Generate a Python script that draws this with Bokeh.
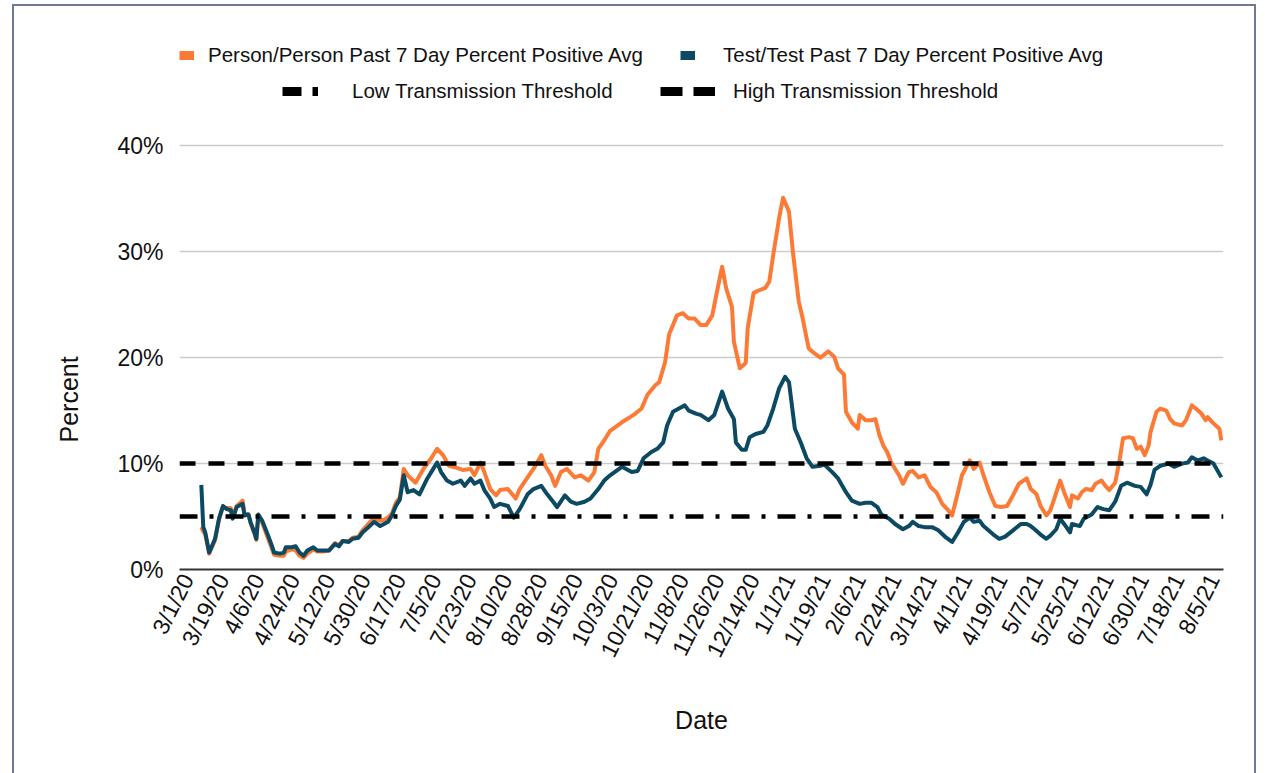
from bokeh.plotting import figure
from bokeh.models import (Range1d, FixedTicker, PrintfTickFormatter, Span,
                          Legend, LegendItem, Title)
from bokeh.embed import file_html
from bokeh.resources import INLINE

# ---------------- data ----------------
# x values are days since 3/1/20
tick_labels = ["3/1/20", "3/19/20", "4/6/20", "4/24/20", "5/12/20", "5/30/20",
               "6/17/20", "7/5/20", "7/23/20", "8/10/20", "8/28/20", "9/15/20",
               "10/3/20", "10/21/20", "11/8/20", "11/26/20", "12/14/20", "1/1/21",
               "1/19/21", "2/6/21", "2/24/21", "3/14/21", "4/1/21", "4/19/21",
               "5/7/21", "5/25/21", "6/12/21", "6/30/21", "7/18/21", "8/5/21"]
tick_step_days = 18

person_days = [7, 8, 9, 11, 14, 16, 18, 20, 22, 23, 25, 28, 29, 31, 32, 34, 35, 36, 38, 41,
               43, 44, 47, 49, 50, 53, 55, 57, 59, 61, 64, 66, 69, 72, 75, 77, 79, 82, 84, 87,
               89, 92, 95, 98, 100, 102, 104, 106, 108, 110, 112, 116, 120, 124, 127, 130, 133,
               137, 140, 144, 146, 149, 151, 154, 157, 159, 163, 167, 169, 173, 176, 180, 182,
               185, 187, 190, 193, 197, 200, 204, 207, 209, 212, 215, 221, 227, 231, 234, 238,
               240, 243, 245, 249, 252, 255, 258, 261, 264, 267, 269, 272, 274, 277, 278, 281,
               284, 285, 288, 290, 294, 296, 298, 301, 303, 306, 308, 311, 313, 316, 319, 322,
               326, 329, 331, 334, 335, 338, 341, 342, 345, 348, 350, 352, 354, 356, 358, 362,
               364, 367, 369, 372, 375, 378, 381, 384, 387, 389, 392, 394, 398, 400, 403, 405,
               408, 411, 414, 417, 420, 423, 427, 429, 432, 434, 437, 439, 441, 444, 446, 449,
               450, 453, 455, 457, 460, 462, 465, 467, 469, 472, 474, 476, 479, 481, 483, 485,
               487, 489, 490, 493, 495, 498, 500, 502, 506, 508, 511, 513, 516, 518, 519, 522,
               525, 526]
person_vals = [4.0, 3.6, 3.3, 1.5, 2.8, 4.7, 5.9, 5.8, 5.8, 5.0, 6.0, 6.5, 5.3, 5.2, 4.4, 3.4,
               2.8, 5.0, 4.4, 2.9, 1.9, 1.4, 1.3, 1.3, 1.7, 1.9, 1.8, 1.3, 1.1, 1.5, 1.9, 1.7,
               1.7, 1.8, 2.5, 2.3, 2.7, 2.7, 3.0, 3.1, 3.7, 4.3, 4.9, 4.6, 4.7, 4.9, 5.3, 6.3,
               6.8, 9.5, 8.9, 8.2, 9.5, 10.5, 11.4, 10.8, 9.8, 9.6, 9.4, 9.5, 8.9, 10.1, 9.2,
               7.6, 7.0, 7.5, 7.6, 6.7, 7.6, 8.7, 9.5, 10.8, 9.8, 8.9, 7.9, 9.2, 9.5, 8.7, 8.9,
               8.4, 9.2, 11.4, 12.2, 13.1, 13.9, 14.6, 15.2, 16.5, 17.4, 17.7, 19.6, 22.2, 24.0,
               24.2, 23.7, 23.7, 23.1, 23.1, 24.0, 25.9, 28.6, 26.6, 24.8, 21.5, 19.0, 19.5,
               22.8, 26.1, 26.3, 26.6, 27.2, 29.7, 33.2, 35.1, 33.8, 30.0, 25.3, 23.7, 20.9,
               20.4, 20.0, 20.6, 20.1, 19.0, 18.4, 14.9, 13.9, 13.3, 14.6, 14.1, 14.1, 14.2,
               12.7, 11.7, 11.1, 10.1, 8.9, 8.1, 9.2, 9.3, 8.7, 8.9, 7.8, 7.3, 6.2, 5.6, 5.1,
               7.3, 8.9, 10.3, 9.5, 10.1, 8.9, 7.3, 6.0, 5.9, 6.0, 7.0, 8.1, 8.6, 7.6, 7.1, 6.0,
               5.1, 5.6, 6.7, 8.4, 7.3, 5.9, 7.0, 6.7, 7.3, 7.6, 7.5, 8.1, 8.4, 7.9, 7.5, 8.2,
               10.1, 12.4, 12.5, 12.4, 11.4, 11.6, 10.8, 11.7, 13.0, 14.9, 15.2, 15.0, 14.2,
               13.8, 13.6, 14.1, 15.5, 15.2, 14.7, 14.1, 14.4, 13.8, 13.3, 12.2]

test_days = [7, 8, 9, 11, 14, 16, 18, 20, 22, 23, 25, 28, 29, 31, 32, 34, 35, 36, 38, 41, 43,
             44, 47, 49, 50, 53, 55, 57, 59, 61, 64, 66, 69, 72, 75, 77, 79, 82, 84, 87, 89, 92,
             95, 98, 100, 102, 104, 106, 108, 110, 112, 115, 118, 122, 125, 127, 129, 132, 135,
             139, 141, 144, 146, 149, 151, 154, 156, 159, 163, 166, 169, 173, 176, 180, 183,
             186, 188, 192, 195, 198, 202, 205, 209, 212, 215, 221, 226, 229, 232, 236, 239,
             242, 244, 247, 250, 253, 255, 259, 261, 265, 268, 272, 275, 278, 279, 282, 284,
             286, 289, 293, 295, 298, 301, 304, 306, 309, 312, 315, 318, 322, 324, 328, 331,
             335, 338, 342, 345, 348, 351, 353, 357, 360, 364, 367, 369, 372, 375, 379, 382,
             386, 389, 392, 395, 398, 400, 403, 405, 410, 413, 416, 420, 424, 427, 429, 431,
             434, 437, 439, 442, 444, 446, 449, 450, 454, 456, 460, 463, 466, 469, 472, 475,
             478, 482, 485, 488, 490, 492, 495, 499, 502, 506, 509, 511, 514, 517, 519, 522,
             526]
test_vals = [8.0, 4.0, 3.5, 1.6, 2.9, 4.8, 6.0, 5.7, 5.6, 4.8, 5.9, 6.2, 5.1, 5.2, 4.5, 3.5,
             2.9, 5.2, 4.6, 3.2, 2.2, 1.6, 1.5, 1.6, 2.1, 2.1, 2.2, 1.6, 1.3, 1.8, 2.1, 1.8,
             1.8, 1.8, 2.4, 2.2, 2.7, 2.6, 2.9, 3.0, 3.5, 4.0, 4.5, 4.1, 4.3, 4.5, 5.1, 6.0,
             6.6, 8.9, 7.3, 7.5, 7.1, 8.6, 9.5, 10.1, 9.2, 8.4, 8.1, 8.4, 7.9, 8.6, 8.1, 8.4,
             7.5, 6.7, 5.9, 6.2, 6.0, 4.9, 5.7, 7.1, 7.6, 7.9, 7.1, 6.4, 5.9, 7.0, 6.4, 6.2,
             6.4, 6.7, 7.6, 8.4, 8.9, 9.7, 9.2, 9.3, 10.5, 11.1, 11.4, 12.0, 13.6, 14.9, 15.2,
             15.5, 15.0, 14.7, 14.6, 14.1, 14.6, 16.8, 15.2, 14.2, 12.0, 11.3, 11.3, 12.5,
             12.8, 13.0, 13.6, 15.2, 17.1, 18.2, 17.7, 13.3, 12.0, 10.5, 9.7, 9.8, 9.9, 9.2,
             8.6, 7.3, 6.5, 6.2, 6.3, 6.3, 5.9, 5.2, 4.8, 4.3, 3.8, 4.1, 4.5, 4.1, 4.0, 4.0,
             3.7, 3.0, 2.6, 3.5, 4.5, 4.9, 4.5, 4.6, 4.1, 3.3, 2.9, 3.1, 3.7, 4.3, 4.3, 4.1,
             3.8, 3.3, 2.9, 3.2, 3.8, 4.8, 4.3, 3.5, 4.3, 4.1, 4.8, 5.2, 5.9, 5.7, 5.6, 6.4,
             7.9, 8.2, 7.9, 7.8, 7.1, 8.0, 9.4, 9.8, 10.0, 9.7, 10.0, 10.1, 10.6, 10.3, 10.5,
             10.3, 10.0, 8.7]

low_threshold = 5
high_threshold = 10
y_ticks = [0, 10, 20, 30, 40]

# ---------------- style / layout ----------------
ORANGE = "#fb7a36"
BLUE = "#0b4a62"
FONT = "Liberation Sans"
FRAME = "#70789a"
TXT = "#111111"

# the plot frame is extended upward (above 40%) so that the legends, which
# live inside the frame, are not clipped; only 0-40% carries ticks and grid.
PX_PER_UNIT = 10.55
HEADROOM_PX = 120
Y_TOP = y_ticks[-1] + HEADROOM_PX / PX_PER_UNIT

tick_days = [i * tick_step_days for i in range(len(tick_labels))]

p = figure(width=1244, height=769, title=None,
           x_range=Range1d(-4.1, 527.1), y_range=Range1d(0, Y_TOP),
           output_backend="svg", toolbar_location=None,
           min_border_left=165, min_border_right=35,
           min_border_top=19, min_border_bottom=206,
           outline_line_color=None,
           background_fill_color="white", border_fill_color="white",
           styles={"border-top": f"2px solid {FRAME}",
                   "border-left": f"2px solid {FRAME}",
                   "border-right": f"2px solid {FRAME}",
                   "margin-top": "4px", "margin-left": "12px"})

# grid
p.xgrid.visible = False
p.ygrid.ticker = FixedTicker(ticks=y_ticks)
p.ygrid.grid_line_color = "#cccccc"
p.ygrid.grid_line_width = 1.5

# series
r_person = p.line(person_days, person_vals, line_color=ORANGE, line_width=4,
                  line_join="round")
r_test = p.line(test_days, test_vals, line_color=BLUE, line_width=4,
                line_join="round")

# thresholds
p.add_layout(Span(location=low_threshold, dimension="width", line_color="black",
                  line_width=4.5, line_dash="18 12 4 12"))
p.add_layout(Span(location=high_threshold, dimension="width", line_color="black",
                  line_width=4.5, line_dash="16 13"))

# axes
xa = p.xaxis[0]
xa.ticker = FixedTicker(ticks=tick_days)
xa.major_label_overrides = {d: l for d, l in zip(tick_days, tick_labels)}
xa.major_label_orientation = 1.1
xa.major_tick_line_color = None
xa.major_tick_out = 0
xa.major_tick_in = 0
xa.minor_tick_line_color = None
xa.axis_line_color = "#333333"
xa.axis_line_width = 2
xa.major_label_standoff = 6
xa.major_label_text_font = FONT
xa.major_label_text_font_size = "23px"
xa.major_label_text_color = TXT
xa.axis_label = "Date"
xa.axis_label_text_font = FONT
xa.axis_label_text_font_size = "25px"
xa.axis_label_text_font_style = "normal"
xa.axis_label_text_color = TXT
xa.axis_label_standoff = 36

ya = p.yaxis[0]
ya.ticker = FixedTicker(ticks=y_ticks)
ya.formatter = PrintfTickFormatter(format="%d%%")
ya.axis_line_color = None
ya.major_tick_line_color = None
ya.major_tick_out = 0
ya.major_tick_in = 0
ya.minor_tick_line_color = None
ya.major_label_standoff = 16
ya.major_label_text_font = FONT
ya.major_label_text_font_size = "23px"
ya.major_label_text_color = TXT

# y-axis title, placed so it is centred on the 0-40% part of the frame
p.add_layout(Title(text="Percent", align="left", offset=127, standoff=63,
                   text_font=FONT, text_font_size="25px", text_font_style="normal",
                   text_color=TXT), "left")

# legend swatches (renderers with no drawable point, used only for the legend glyphs)
nan = float("nan")
sw_person = p.line(x=[nan], y=[nan], line_color=ORANGE, line_width=9)
sw_test = p.line(x=[nan], y=[nan], line_color=BLUE, line_width=9)
sw_low = p.line(x=[nan], y=[nan], line_color="black", line_width=9,
                line_dash="19 11 6 11")
sw_high = p.line(x=[nan], y=[nan], line_color="black", line_width=9, line_dash="22 11")


def make_legend(label, rend, loc, gw, standoff):
    return Legend(items=[LegendItem(label=label, renderers=[rend])],
                  location=loc, orientation="horizontal",
                  glyph_width=gw, glyph_height=24, label_height=24,
                  label_standoff=standoff, padding=0, margin=0, spacing=0,
                  border_line_color=None, background_fill_alpha=0,
                  label_text_font=FONT, label_text_font_size="20.5px",
                  label_text_color=TXT)


p.add_layout(make_legend("Person/Person Past 7 Day Percent Positive Avg", sw_person,
                         (0, 502), 15, 14))
p.add_layout(make_legend("Test/Test Past 7 Day Percent Positive Avg", sw_test,
                         (501, 502), 15, 28))
p.add_layout(make_legend("Low Transmission Threshold", sw_low, (103, 466), 36, 34))
p.add_layout(make_legend("High Transmission Threshold", sw_high, (481, 466), 55, 18))

open("out.html", "w").write(file_html(p, INLINE))
